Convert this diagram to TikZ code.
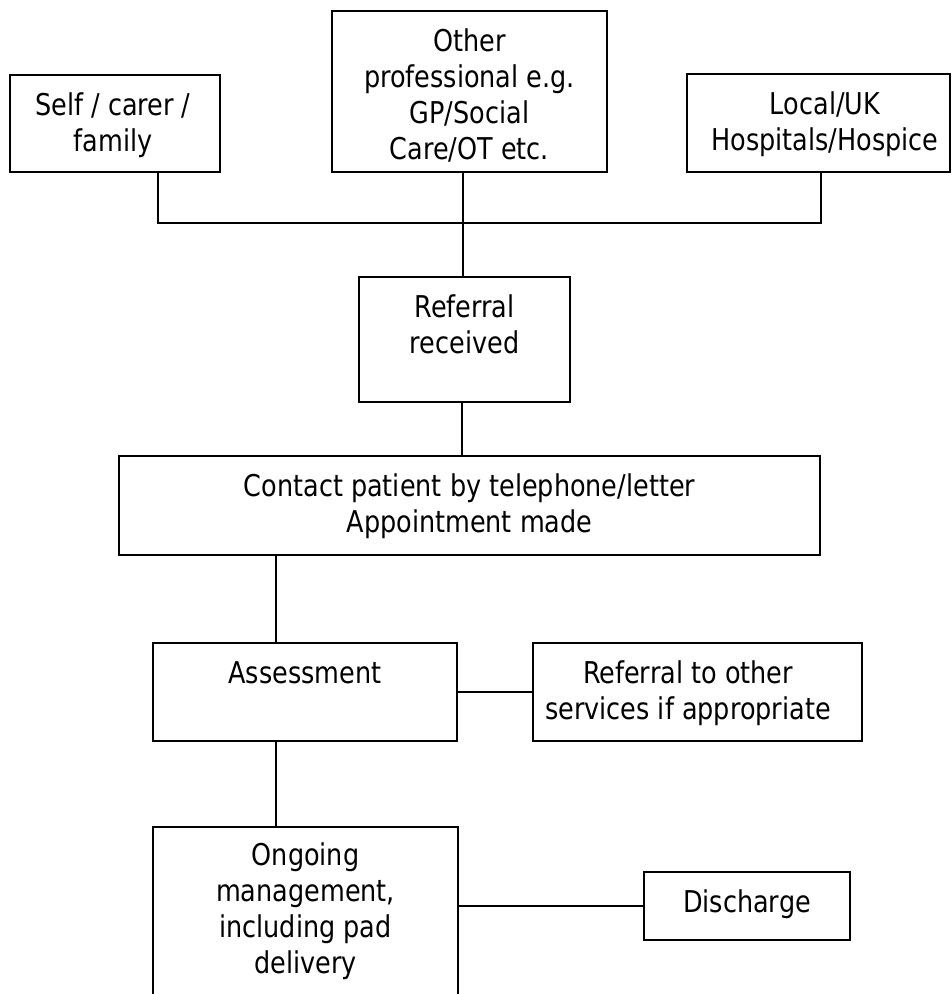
\documentclass[tikz,border=0pt]{standalone}
\usepackage{fontspec}
\setmainfont{DejaVu Sans}[FakeStretch=0.85]
\begin{document}
\begin{tikzpicture}[x=1pt,y=-1pt,
  box/.style={draw, line width=1.8pt, inner sep=0pt, outer sep=0pt, anchor=north west},
  txt/.style={anchor=north, inner sep=0pt, align=center, font=\fontsize{30}{36}\selectfont},
  conn/.style={line width=1.8pt}]
\useasboundingbox (0,0) rectangle (952,994);
\fill[white] (0,0) rectangle (952,994);
% boxes
\node[box, minimum width=210pt, minimum height=97pt]  (self)     at (10,75)   {};
\node[box, minimum width=275pt, minimum height=161pt] (other)    at (332,11)  {};
\node[box, minimum width=263pt, minimum height=98pt]  (local)    at (687,74)  {};
\node[box, minimum width=211pt, minimum height=125pt] (ref)      at (359,277) {};
\node[box, minimum width=701pt, minimum height=99pt]  (contact)  at (119,456) {};
\node[box, minimum width=304pt, minimum height=98pt]  (assess)   at (153,643) {};
\node[box, minimum width=329pt, minimum height=98pt]  (refother) at (533,643) {};
\node[box, minimum width=305pt, minimum height=180pt] (ong)      at (153,827) {};
\node[box, minimum width=206pt, minimum height=68pt]  (dis)      at (644,872) {};
% texts
\node[txt] (tself) at ([xshift=-2pt,yshift=-15.3pt]self.north) {\strut Self / carer /\\\strut family};
\node[txt] (tother) at ([yshift=-15.3pt]other.north) {\strut Other\\\strut professional e.g.\\\strut GP/Social\\\strut Care/OT etc.};
\node[txt] (tlocal) at ([xshift=6.5pt,yshift=-15.3pt]local.north) {\strut Local/UK\\\strut Hospitals/Hospice};
\node[txt] (tref) at ([yshift=-15.3pt]ref.north) {\strut Referral\\\strut received};
\node[txt] (tcontact) at ([yshift=-15.3pt]contact.north) {\strut Contact patient by telephone/letter\\\strut Appointment made};
\node[txt] (tassess) at ([yshift=-14.8pt]assess.north) {\strut Assessment};
\node[txt] (trefother) at ([xshift=-9.5pt,yshift=-14.8pt]refother.north) {\strut Referral to other\\\strut services if appropriate};
\node[txt] (tong) at ([yshift=-13pt]ong.north) {\strut Ongoing\\\strut management,\\\strut including pad\\\strut delivery};
\node[txt] (tdis) at ([yshift=-14.8pt]dis.north) {\strut Discharge};
% connectors
\coordinate (j) at (463,223);
\draw[conn] ([xshift=43pt]self.south) |- (j);
\draw[conn] ([xshift=2.5pt]local.south) |- (j);
\draw[conn] (other.south -| j) -- (ref.north -| j);
\draw[conn] ([xshift=-2.5pt]ref.south) -- ([xshift=-2.5pt]ref.south |- contact.north);
\draw[conn] ([xshift=-29pt]assess.north) -- ([xshift=-29pt]assess.north |- contact.south);
\draw[conn] (assess.east) -- (refother.west);
\draw[conn] ([xshift=-29pt]assess.south) -- ([xshift=-29pt]assess.south |- ong.north);
\draw[conn] (ong.east |- dis.west) -- (dis.west);
\end{tikzpicture}
\end{document}
